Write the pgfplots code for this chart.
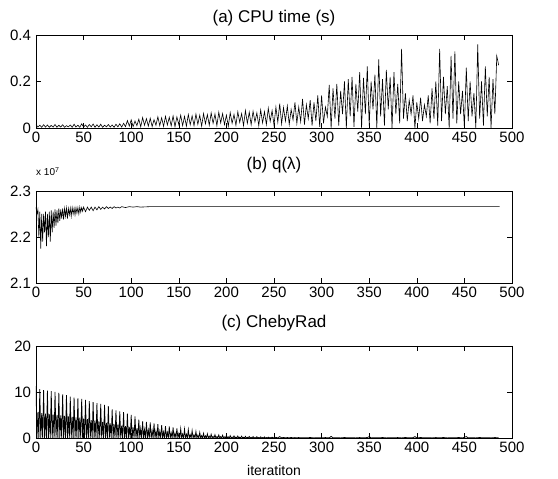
\documentclass[border=0pt]{standalone}
\usepackage{fontspec}
\setmainfont{Liberation Sans}
\usepackage{pgfplots}
\pgfplotsset{compat=1.18}
\begin{document}
\begin{tikzpicture}
\useasboundingbox (0bp,0bp) rectangle (558bp,479bp);
\pgfplotsset{
  every axis/.append style={
    scale only axis, width=476bp, height=92bp, xmin=0, xmax=500,
    xtick={0,50,...,500}, tick align=inside, major tick length=5bp,
    axis line style={line width=0.8bp},
    every tick/.style={line width=0.6bp, black},
    tick label style={font=\fontsize{15bp}{17bp}\selectfont},
    /pgf/number format/assume math mode=true,
    title style={font=\fontsize{17bp}{19bp}\selectfont, anchor=center, at={(0.5,1)}},
    yticklabel style={xshift=-1.5bp},
    xticklabel style={yshift=-1bp},
    anchor=south west,
    clip mode=individual,
  },
}
% (a)
\begin{axis}[at={(36bp,351bp)}, height=93bp, ymin=0, ymax=0.4,
  ytick={0,0.2,0.4}, yticklabels={0,0.2,0.4},
  title={(a) CPU time (s)}, title style={yshift=10.5bp}]
\addplot[black, line width=0.6bp, sharp plot] coordinates {
(0,0.015)(2,0.004)(4,0.012)(6,0.003)(8,0.014)(10,0.004)(12,0.013)(14,0.003)(16,0.011)(18,0.004)
(20,0.015)(22,0.003)(24,0.012)(26,0.004)(28,0.014)(30,0.003)(32,0.010)(34,0.005)(36,0.013)(38,0.003)
(40,0.016)(42,0.004)(44,0.012)(46,0.003)(48,0.018)(50,0.004)(52,0.013)(54,0.003)(56,0.015)(58,0.005)
(60,0.017)(62,0.003)(64,0.014)(66,0.004)(68,0.016)(70,0.003)(72,0.012)(74,0.005)(76,0.015)(78,0.004)
(80,0.013)(82,0.003)(84,0.016)(86,0.005)(88,0.018)(90,0.004)(92,0.020)(94,0.006)(96,0.032)(98,0.008)
(100,0.035)(102,0.006)(104,0.030)(106,0.010)(108,0.038)(110,0.005)(112,0.045)(114,0.012)(116,0.040)(118,0.008)
(120,0.042)(122,0.006)(124,0.036)(126,0.012)(128,0.048)(130,0.010)(132,0.044)(134,0.007)(136,0.050)(138,0.013)
(140,0.046)(142,0.009)(144,0.052)(146,0.006)(148,0.048)(150,0.015)(152,0.055)(154,0.010)(156,0.050)(158,0.008)
(160,0.058)(162,0.014)(164,0.052)(166,0.010)(168,0.060)(170,0.016)(172,0.055)(174,0.008)(176,0.062)(178,0.018)
(180,0.058)(182,0.012)(184,0.065)(186,0.020)(188,0.060)(190,0.010)(192,0.068)(194,0.022)(196,0.062)(198,0.015)
(200,0.055)(202,0.008)(204,0.066)(206,0.020)(208,0.058)(210,0.012)(212,0.070)(214,0.024)(216,0.062)(218,0.010)
(220,0.075)(222,0.020)(224,0.068)(226,0.014)(228,0.072)(230,0.026)(232,0.065)(234,0.010)(236,0.078)(238,0.022)
(240,0.070)(242,0.015)(244,0.085)(246,0.028)(248,0.075)(250,0.012)(252,0.090)(254,0.025)(256,0.105)(258,0.018)
(260,0.088)(262,0.030)(264,0.095)(266,0.015)(268,0.080)(270,0.035)(272,0.110)(274,0.020)(276,0.090)(278,0.028)
(280,0.125)(282,0.015)(284,0.100)(286,0.040)(288,0.120)(290,0.010)(292,0.110)(294,0.030)(296,0.140)(298,0.005)
(300,0.140)(302,0.020)(304,0.090)(306,0.050)(308,0.185)(310,0.000)(312,0.170)(314,0.040)(316,0.190)(318,0.010)
(320,0.160)(322,0.060)(324,0.200)(326,0.000)(328,0.210)(330,0.050)(332,0.220)(334,0.005)(336,0.190)(338,0.070)
(340,0.240)(342,0.000)(344,0.215)(346,0.060)(348,0.265)(350,0.010)(352,0.200)(354,0.080)(356,0.230)(358,0.000)
(360,0.295)(362,0.050)(364,0.210)(366,0.010)(368,0.250)(370,0.080)(372,0.220)(374,0.000)(376,0.240)(378,0.060)
(380,0.190)(382,0.020)(384,0.340)(386,0.040)(388,0.150)(390,0.030)(392,0.120)(394,0.060)(396,0.140)(398,0.000)
(400,0.110)(402,0.040)(404,0.130)(406,0.030)(408,0.100)(410,0.050)(412,0.140)(414,0.020)(416,0.170)(418,0.040)
(420,0.200)(422,0.010)(424,0.340)(426,0.030)(428,0.220)(430,0.060)(432,0.180)(434,0.000)(436,0.310)(438,0.040)
(440,0.330)(442,0.020)(444,0.200)(446,0.060)(448,0.160)(450,0.000)(452,0.260)(454,0.030)(456,0.200)(458,0.050)
(460,0.150)(462,0.000)(464,0.360)(466,0.040)(468,0.200)(470,0.010)(472,0.265)(474,0.050)(476,0.220)(478,0.000)
(480,0.210)(482,0.060)(484,0.310)(486,0.270)
};
\end{axis}
% (b)
\begin{axis}[at={(36bp,196bp)}, ymin=2.1, ymax=2.3,
  ytick={2.1,2.2,2.3}, yticklabels={2.1,2.2,2.3},
  title={(b) q(λ)}, title style={yshift=20bp}]
\addplot[black, line width=0.6bp, sharp plot] coordinates {
(0,2.265)(1,2.25)(2,2.26)(3,2.20)(4,2.255)(5,2.175)(6,2.25)(7,2.19)(8,2.25)(9,2.21)
(10,2.255)(11,2.18)(12,2.25)(13,2.20)(14,2.255)(15,2.19)(16,2.258)(17,2.21)(18,2.255)(19,2.22)
(20,2.26)(21,2.225)(22,2.258)(23,2.23)(24,2.262)(25,2.235)(26,2.26)(27,2.24)(28,2.262)(29,2.238)
(30,2.262)(31,2.245)(32,2.263)(33,2.24)(34,2.262)(35,2.248)(36,2.263)(37,2.245)(38,2.264)(39,2.25)
(40,2.263)(41,2.248)(42,2.264)(43,2.252)(44,2.264)(45,2.25)(46,2.265)(47,2.254)(48,2.264)(49,2.256)
(50,2.265)(52,2.255)(54,2.265)(56,2.258)(58,2.265)(60,2.257)(62,2.265)(64,2.259)(66,2.266)(68,2.26)
(70,2.265)(72,2.261)(74,2.266)(76,2.262)(78,2.265)(80,2.262)(82,2.266)(84,2.263)(86,2.265)(88,2.263)
(90,2.266)(94,2.264)(98,2.266)(102,2.265)(106,2.266)(110,2.265)(120,2.266)(130,2.266)(487,2.266)
};
\node[anchor=south west, inner sep=0pt, font=\fontsize{10bp}{12bp}\selectfont]
  at (rel axis cs:0,1) [yshift=15bp] {x 10\textsuperscript{7}};
\end{axis}
% (c)
\begin{axis}[at={(36bp,41bp)}, ymin=0, ymax=20,
  ytick={0,10,20}, yticklabels={0,10,20},
  title={(c) ChebyRad}, title style={yshift=17bp},
  xlabel={iteratiton},
  xlabel style={font=\fontsize{14bp}{16bp}\selectfont, at={(axis description cs:0.5,0)}, anchor=center, yshift=-32bp}]
\addplot[black, line width=0.75bp, sharp plot] coordinates {
(0,11.3)(1,0)(2,5.6)(3,0)(4,10.6)(5,0)(6,5.4)(7,0)
(8,10.4)(9,0)(10,5.3)(11,0)(12,10.3)(13,0)(14,5.2)(15,0)
(16,10.2)(17,0)(18,5.1)(19,0)(20,10.0)(21,0)(22,5.0)(23,0)
(24,9.8)(25,0)(26,4.9)(27,0)(28,9.5)(29,0)(30,4.8)(31,0)
(32,9.3)(33,0)(34,4.7)(35,0)(36,9.0)(37,0)(38,4.6)(39,0)
(40,8.8)(41,0)(42,4.5)(43,0)(44,8.6)(45,0)(46,4.4)(47,0)
(48,8.5)(49,0)(50,4.2)(51,0)(52,8.3)(53,0)(54,4.1)(55,0)
(56,8.0)(57,0)(58,3.9)(59,0)(60,7.8)(61,0)(62,3.8)(63,0)
(64,7.6)(65,0)(66,3.6)(67,0)(68,7.4)(69,0)(70,3.5)(71,0)
(72,7.2)(73,0)(74,3.3)(75,0)(76,6.9)(77,0)(78,3.2)(79,0)
(80,6.2)(81,0)(82,3.0)(83,0)(84,6.0)(85,0)(86,2.9)(87,0)
(88,5.8)(89,0)(90,2.7)(91,0)(92,5.6)(93,0)(94,2.6)(95,0)
(96,5.3)(97,0)(98,2.4)(99,0)(100,5.0)(101,0)(102,2.3)(103,0)
(104,4.7)(105,0)(106,2.1)(107,0)(108,4.0)(109,0)(110,2.0)(111,0)
(112,3.6)(113,0)(114,1.8)(115,0)(116,3.5)(117,0)(118,1.7)(119,0)
(120,3.4)(121,0)(122,1.6)(123,0)(124,3.2)(125,0)(126,1.5)(127,0)
(128,3.0)(129,0)(130,1.4)(131,0)(132,2.8)(133,0)(134,1.3)(135,0)
(136,2.6)(137,0)(138,1.2)(139,0)(140,2.5)(141,0)(142,1.1)(143,0)
(144,2.3)(145,0)(146,1.0)(147,0)(148,2.1)(149,0)(150,0.9)(151,0)
(152,2.0)(153,0)(154,0.85)(155,0)(156,1.9)(157,0)(158,0.8)(159,0)
(160,1.8)(161,0)(162,0.7)(163,0)(164,1.6)(165,0)(166,0.65)(167,0)
(168,1.4)(169,0)(170,0.6)(171,0)(172,1.2)(173,0)(174,0.5)(175,0)
(176,1.0)(177,0)(178,0.45)(179,0)(180,0.9)(181,0)(182,0.4)(183,0)
(184,0.8)(185,0)(186,0.35)(187,0)(188,0.7)(189,0)(190,0.3)(191,0)
(192,0.65)(193,0)(194,0.3)(195,0)(196,0.6)(197,0)(198,0.25)(199,0)
(200,0.55)(201,0)(202,0.25)(203,0)(204,0.5)(205,0)(206,0.2)(207,0)
(208,0.45)(209,0)(210,0.2)(211,0)(212,0.42)(213,0)(214,0.18)(215,0)
(216,0.4)(217,0)(218,0.16)(219,0)(220,0.35)(221,0)(222,0.15)(223,0)
(224,0.32)(225,0)(226,0.14)(227,0)(228,0.3)(229,0)(230,0.12)(231,0)
(232,0.28)(233,0)(234,0.12)(235,0)(236,0.25)(237,0)(238,0.1)(239,0)
(240,0.22)(241,0)(242,0.1)(243,0)(244,0.2)(245,0)(246,0.1)(247,0)
(248,0.18)(249,0)(250,0.08)(251,0)
(252,0.15)(254,0.02)(256,0.3)(258,0.03)(260,0.12)(262,0.02)(264,0.1)(266,0.03)(268,0.12)(270,0.02)
(272,0.09)(274,0.03)(276,0.1)(278,0.02)(280,0.08)(284,0.03)(288,0.1)(292,0.02)(296,0.08)(300,0.03)
(304,0.09)(308,0.02)(310,0.35)(312,0.03)(316,0.08)(320,0.02)(324,0.1)(328,0.03)(332,0.08)(336,0.02)
(340,0.09)(344,0.03)(348,0.1)(350,0.3)(352,0.02)(356,0.08)(360,0.03)(364,0.1)(368,0.02)(372,0.08)
(376,0.03)(380,0.09)(384,0.02)(388,0.1)(392,0.03)(396,0.08)(398,0.3)(400,0.02)(404,0.1)(408,0.03)
(412,0.08)(416,0.02)(420,0.09)(424,0.03)(428,0.1)(432,0.02)(436,0.08)(440,0.03)(444,0.1)(448,0.02)
(452,0.3)(454,0.03)(458,0.08)(462,0.02)(466,0.1)(470,0.03)(474,0.08)(478,0.02)(482,0.09)(486,0.05)
};
\end{axis}
\end{tikzpicture}
\end{document}
